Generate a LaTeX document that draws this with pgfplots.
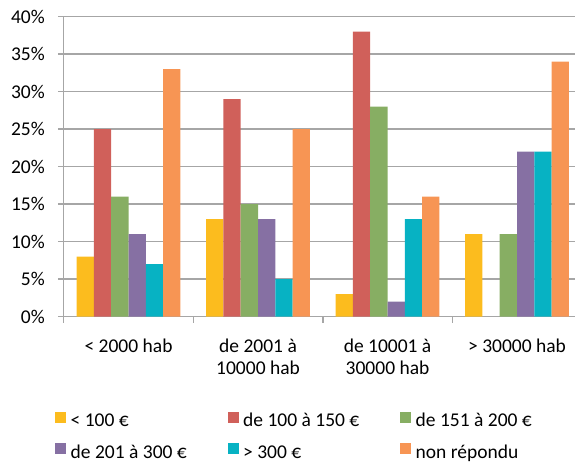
\documentclass[border=0pt]{standalone}
\usepackage{fontspec}
\setmainfont{Carlito}
\usepackage{pgfplots}
\pgfplotsset{compat=1.18}
\definecolor{cY}{HTML}{FCBC1E}
\definecolor{cR}{HTML}{D0605A}
\definecolor{cG}{HTML}{87AE63}
\definecolor{cP}{HTML}{8670A3}
\definecolor{cC}{HTML}{07B2C3}
\definecolor{cO}{HTML}{F79554}
\definecolor{gridg}{HTML}{A6A6A6}
\newcommand{\cf}{\fontsize{19.5}{22}\selectfont}
\newcommand{\lb}[1]{\makebox[157pt][l]{#1}}
\begin{document}
\begin{tikzpicture}[x=1pt,y=1pt]
\path[use as bounding box] (0,0) rectangle (575,462);
\begin{axis}[
  at={(63.8pt,145.3pt)}, anchor=south west,
  width=511pt, height=300pt, scale only axis,
  xmin=-0.5, xmax=3.446, ymin=0, ymax=40,
  axis x line*=bottom, axis y line*=left,
  axis line style={gridg, line width=1.4pt},
  ymajorgrids, grid style={gridg, line width=1.4pt},
  ytick={0,5,...,40},
  yticklabel={\pgfmathprintnumber{\tick}\%},
  /pgf/number format/assume math mode=true,
  tick align=outside,
  major tick length=6pt,
  tick style={gridg, line width=1.4pt},
  xtick={0,1,2,3},
  xticklabels={{< 2000 hab},{de 2001 à\\10000 hab},{de 10001 à\\30000 hab},{> 30000 hab}},
  major x tick style={draw=none},
  extra x ticks={-0.5,0.5,1.5,2.5},
  extra x tick labels={},
  extra x tick style={grid=none, major x tick style={draw=gridg, line width=1.4pt}},
  xticklabel style={font=\cf, align=center, anchor=north, inner sep=0pt, yshift=-16pt},
  yticklabel style={font=\cf, anchor=east, inner sep=0pt, xshift=-12.8pt},
  ybar, bar width=0.1336,
  every axis plot/.append style={draw=none},
  legend columns=3,
  legend cell align=left,
  legend style={at={(axis description cs:-0.01722,-0.3167)}, anchor=north west, draw=none, inner sep=0pt,
    font=\cf, row sep=11.5pt,
    nodes={inner sep=0pt, text height=13pt, text depth=5pt},
    /tikz/every odd column/.style={column sep=4.5pt}},
  legend image code/.code={\fill[#1] (0pt,0pt) rectangle (11pt,11pt);},
]
\addplot[fill=cY, bar shift=-0.334] coordinates {(0,8) (1,13) (2,3) (3,11)};
\addplot[fill=cR, bar shift=-0.2004] coordinates {(0,25) (1,29) (2,38)};
\addplot[fill=cG, bar shift=-0.0668] coordinates {(0,16) (1,15) (2,28) (3,11)};
\addplot[fill=cP, bar shift=0.0668] coordinates {(0,11) (1,13) (2,2) (3,22)};
\addplot[fill=cC, bar shift=0.2004] coordinates {(0,7) (1,5) (2,13) (3,22)};
\addplot[fill=cO, bar shift=0.334] coordinates {(0,33) (1,25) (2,16) (3,34)};
\legend{\lb{< 100 €}, \lb{de 100 à 150 €}, \lb{de 151 à 200 €}, \lb{de 201 à 300 €}, \lb{> 300 €}, \lb{non répondu}}
\end{axis}
\end{tikzpicture}
\end{document}
